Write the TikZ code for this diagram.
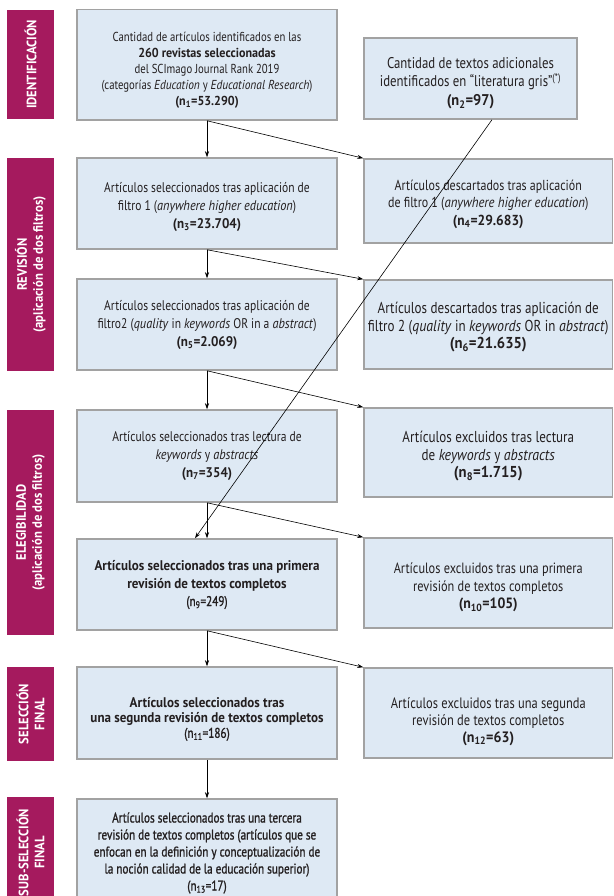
\documentclass[tikz,border=0pt]{standalone}
\usepackage{fontspec}
\setmainfont{PT Sans}[FakeStretch=0.825,BoldFeatures={FakeStretch=0.93},ItalicFeatures={FakeStretch=0.88}]
\newfontfamily\semib{PT Sans}[FakeStretch=0.8,FakeBold=1.2]
\newcommand{\tstrut}[1]{\rule{0pt}{#1pt}}
\usetikzlibrary{arrows.meta,calc}
\definecolor{boxfill}{RGB}{222,233,244}
\definecolor{boxline}{RGB}{162,162,162}
\definecolor{barcol}{RGB}{165,26,94}
\definecolor{txt}{RGB}{35,31,32}
\begin{document}
\begin{tikzpicture}[x=1pt,y=-1pt,
  box/.style={draw=boxline,line width=1.5pt,fill=boxfill,align=center,text=txt,inner sep=0pt},
  fs/.style 2 args={font=\fontsize{#1}{#2}\selectfont},
  barlabel/.style={fill=barcol,text=white,inner sep=0pt,align=center,rotate=90,minimum height=47pt,font=\bfseries\fontsize{13.6}{16}\selectfont},
  arr/.style={-{Stealth[length=6pt,width=4pt]},line width=0.6pt,black}]
\useasboundingbox (0,0) rectangle (613,896);
% phase labels
\node[barlabel,minimum width=109pt] (l1) at (30.5,64.5) {IDENTIFICACIÓN};
\node[barlabel,minimum width=213pt] (l2) at (30.5,264.5) {REVISIÓN\\(aplicación de dos filtros)};
\node[barlabel,minimum width=225pt] (l3) at (30.5,522.5) {ELEGIBILIDAD\\(aplicación de dos filtros)};
\node[barlabel,minimum width=94pt] (l4) at (30.5,714) {SELECCIÓN\\FINAL};
\node[barlabel,minimum width=111pt] (l5) at (30.5,852.5) {SUB-SELECCIÓN\\FINAL};
% left column
\node[box,fs={13}{16},minimum width=260pt,minimum height=110.5pt] (b1) at (207,64.75) {\tstrut{20}Cantidad de artículos identificados en las\\ \textbf{260 revistas seleccionadas}\\ del SCImago Journal Rank 2019\\ (categorías \textit{Education} y \textit{Educational Research})\\ \textbf{(n\textsubscript{1}=53.290)}};
\node[box,fs={14}{18},minimum width=260pt,minimum height=91pt] (b3) at (207,203.5) {\tstrut{16.6}Artículos seleccionados tras aplicación de\\ filtro 1 (\textit{anywhere higher education})\\ \textbf{(n\textsubscript{3}=23.704)}};
\node[box,fs={14}{18},minimum width=260pt,minimum height=91pt] (b5) at (207,324.5) {Artículos seleccionados tras aplicación de\\ filtro2 (\textit{quality} in \textit{keywords} OR in a \textit{abstract})\\ \textbf{(n\textsubscript{5}=2.069)}};
\node[box,fs={14}{18},minimum width=260pt,minimum height=92pt] (b7) at (207,456) {Artículos seleccionados tras lectura de\\ \textit{keywords} y \textit{abstracts}\\ \textbf{(n\textsubscript{7}=354)}};
\node[box,fs={14}{18},minimum width=260pt,minimum height=91pt] (b9) at (207,584.5) {\textbf{Artículos seleccionados tras una primera}\\ \textbf{revisión de textos completos}\\ {\semib(n\textsubscript{9}=249)}};
\node[box,fs={14}{15},minimum width=260pt,minimum height=92pt] (b11) at (207,713) {\tstrut{22.6}\textbf{Artículos seleccionados tras}\\ \textbf{una segunda revisión de textos completos}\\ {\semib(n\textsubscript{11}=186)}};
\node[box,minimum width=260pt,minimum height=108pt,font=\semib\fontsize{14}{17}\selectfont] (b13) at (207,853) {Artículos seleccionados tras una tercera\\ revisión de textos completos (artículos que se\\ enfocan en la definición y conceptualización de\\ la noción calidad de la educación superior)\\ (n\textsubscript{13}=17)};
% right column
\node[box,fs={15.5}{18.5},minimum width=213pt,minimum height=81pt] (b2) at (470.5,78.5) {\tstrut{20}Cantidad de textos adicionales\\ identificados en “literatura gris”\textsuperscript{(*)}\\ \textbf{(n\textsubscript{2}=97)}};
\node[box,fs={14.5}{17.5},minimum width=248.5pt,minimum height=84pt] (b4) at (488.25,201) {\tstrut{17}Artículos descartados tras aplicación\\ de filtro 1 (\textit{anywhere higher education})\\ \textbf{(n\textsubscript{4}=29.683)}};
\node[box,fs={15.8}{17.5},minimum width=248.5pt,minimum height=89pt] (b6) at (488.25,324.5) {\tstrut{17}Artículos descartados tras aplicación de\\ filtro 2 (\textit{quality} in \textit{keywords} OR in \textit{abstract})\\ \textbf{(n\textsubscript{6}=21.635)}};
\node[box,fs={15.8}{17.5},minimum width=248.5pt,minimum height=89pt] (b8) at (488.25,452.5) {\tstrut{19}Artículos excluidos tras lectura\\ de \textit{keywords} y \textit{abstracts}\\ \textbf{(n\textsubscript{8}=1.715)}};
\node[box,fs={14.9}{17.5},minimum width=248.5pt,minimum height=90pt] (b10) at (488.25,583) {\tstrut{19.3}Artículos excluidos tras una primera\\ revisión de textos completos\\ \textbf{(n\textsubscript{10}=105)}};
\node[box,fs={15.1}{17},minimum width=248.5pt,minimum height=90pt] (b12) at (488.25,713) {\tstrut{27.5}Artículos excluidos tras una segunda\\ revisión de textos completos\\ \textbf{(n\textsubscript{12}=63)}};
% connectors
\draw[arr] (b1.south) -- (b3.north);
\draw[arr] (b1.south) -- (b4.north west);
\draw[arr] (b3.south) -- (b5.north);
\draw[arr] (b3.south) -- (b6.north west);
\draw[arr] (b5.south) -- (b7.north);
\draw[arr] (b5.south) -- (b8.north west);
\draw[arr] (b7.south) -- (b9.north);
\draw[arr] (b7.south) -- (b10.north west);
\draw[arr] (b9.south) -- (b11.north);
\draw[arr] (b9.south) -- (b12.north west);
\draw[arr] (b11.south) -- (b13.north);
\draw[arr] ($(b2.south west)!0.6!(b2.south east)$) -- ($(b9.north west)!0.454!(b9.north east)$);
\end{tikzpicture}
\end{document}
